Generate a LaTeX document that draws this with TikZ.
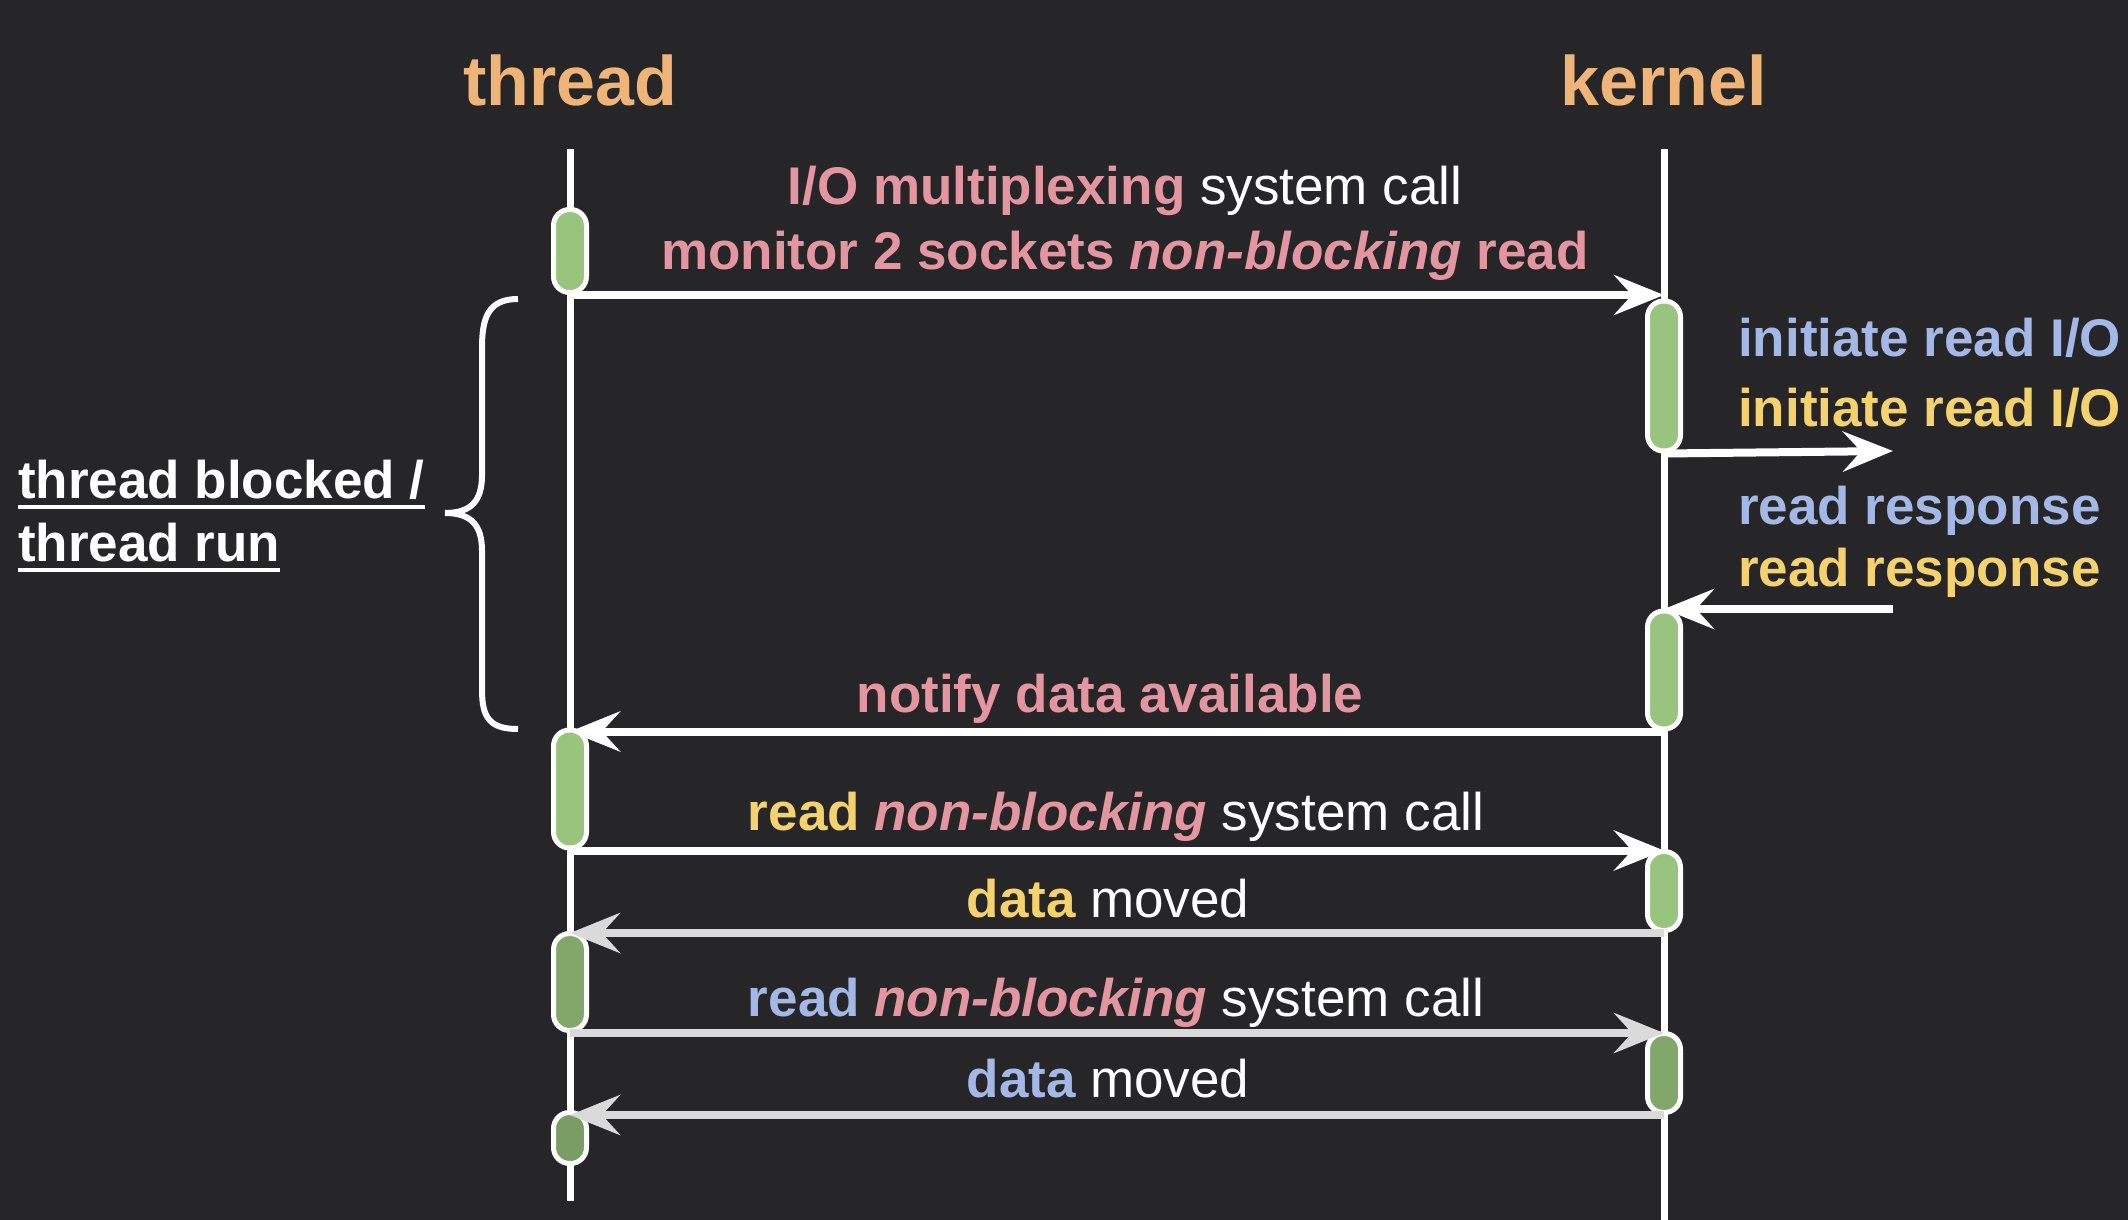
\documentclass[tikz,border=0pt]{standalone}
\usepackage{fontspec}
\setmainfont{Liberation Sans}
\usetikzlibrary{arrows.meta}
\definecolor{bg}{RGB}{38,37,40}
\definecolor{hd}{RGB}{238,180,120}
\definecolor{pk}{RGB}{228,150,160}
\definecolor{bl}{RGB}{163,184,230}
\definecolor{yl}{RGB}{244,210,110}
\definecolor{barg}{RGB}{152,196,126}
\definecolor{fade}{RGB}{218,218,218}
\begin{document}
\begin{tikzpicture}[x=1pt, y=-1pt,
    head/.style={anchor=base, inner sep=0, text=hd, font=\fontsize{70}{80}\selectfont\bfseries},
    lbl/.style={anchor=base, inner sep=0, text=white, font=\fontsize{53}{60}\selectfont\bfseries},
    bar/.style={draw=white, line width=5pt, fill=barg, rounded corners=16pt, minimum width=33pt, inner sep=0},
    life/.style={draw=white, line width=7pt},
    msg/.style={draw=white, line width=8pt, -{Stealth[length=50pt,width=40pt,inset=18pt]}}]
    \fill[bg] (0,0) rectangle (2128,1220);
    \useasboundingbox (0,0) rectangle (2128,1220);
    % lifelines
    \node[head] (thr) at (570,106) {thread}; \node[head] (ker) at (1664,106) {kernel};
    \coordinate (ttop) at (570,149); \coordinate (tbot) at (570,1201);
    \coordinate (ktop) at (1664,149); \coordinate (kbot) at (1664,1222);
    \draw[life] (ttop) -- (tbot); \draw[life] (ktop) -- (kbot);
    % activation bars
    \node[bar, minimum height=83pt] (tb1) at (570,251) {};
    \node[bar, minimum height=118pt] (tb2) at (570,789) {};
    \node[bar, minimum height=97pt, fill=barg!85!black] (tb3) at (570,982) {};
    \node[bar, minimum height=51pt, fill=barg!80!black] (tb4) at (570,1138) {};
    \node[bar, minimum height=150pt] (kb1) at (1664,376) {};
    \node[bar, minimum height=118pt] (kb2) at (1664,670) {};
    \node[bar, minimum height=79pt] (kb3) at (1664,891) {};
    \node[bar, minimum height=79pt, fill=barg!85!black] (kb4) at (1664,1073) {};
    % messages
    \coordinate (io1) at (1893,451); \coordinate (io2) at (1893,609);
    \draw[msg] (tb1.south) -- (tb1.south -| ktop);
    \draw[msg] (kb1.south) -- (io1);
    \draw[msg] (io2) -- (io2 -| ktop);
    \draw[msg] (kb2.south) -- (kb2.south -| ttop);
    \draw[msg] (tb2.south) -- (tb2.south -| ktop);
    \draw[msg, draw=fade] (kb3.south) -- (kb3.south -| ttop);
    \draw[msg, draw=fade] (tb3.south) -- (tb3.south -| ktop);
    \draw[msg, draw=fade] (kb4.south) -- (kb4.south -| ttop);
    % labels
    \node[lbl] (l1) at (1125,204) {\textcolor{pk}{I/O multiplexing} \mdseries system call};
    \node[lbl, text=pk] (l2) at (1125,269) {monitor 2 sockets \textit{non-blocking} read};
    \node[lbl, text=pk] (l3) at (1110,712) {notify data available};
    \node[lbl] (l4) at (1116,830) {\textcolor{yl}{read} \textcolor{pk}{\textit{non-blocking}} \mdseries system call};
    \node[lbl] (l5) at (1108,917) {\textcolor{yl}{data} \mdseries moved};
    \node[lbl] (l6) at (1116,1016) {\textcolor{bl}{read} \textcolor{pk}{\textit{non-blocking}} \mdseries system call};
    \node[lbl] (l7) at (1108,1097) {\textcolor{bl}{data} \mdseries moved};
    \node[lbl, anchor=base west, text=bl] (r1) at (1738,356) {initiate read I/O};
    \node[lbl, anchor=base west, text=yl] (r2) at (1738,426) {initiate read I/O};
    \node[lbl, anchor=base west, text=bl] (r3) at (1738,524) {read response};
    \node[lbl, anchor=base west, text=yl] (r4) at (1738,586) {read response};
    % brace and note
    \draw[white, line width=6pt] (518,299) .. controls (488,299) and (482,318) .. (482,348) -- (482,475)
        .. controls (482,500) and (472,513) .. (445,513) .. controls (472,513) and (482,526) .. (482,551)
        -- (482,690) .. controls (482,718) and (490,729) .. (518,729);
    \node[lbl, anchor=base west] (n1) at (18,498) {thread blocked /};
    \node[lbl, anchor=base west] (n2) at (18,561) {thread run};
    \draw[white, line width=4pt] ([yshift=-9pt]n1.base west) -- ([yshift=-9pt]n1.base east);
    \draw[white, line width=4pt] ([yshift=-9pt]n2.base west) -- ([yshift=-9pt]n2.base east);
\end{tikzpicture}
\end{document}
